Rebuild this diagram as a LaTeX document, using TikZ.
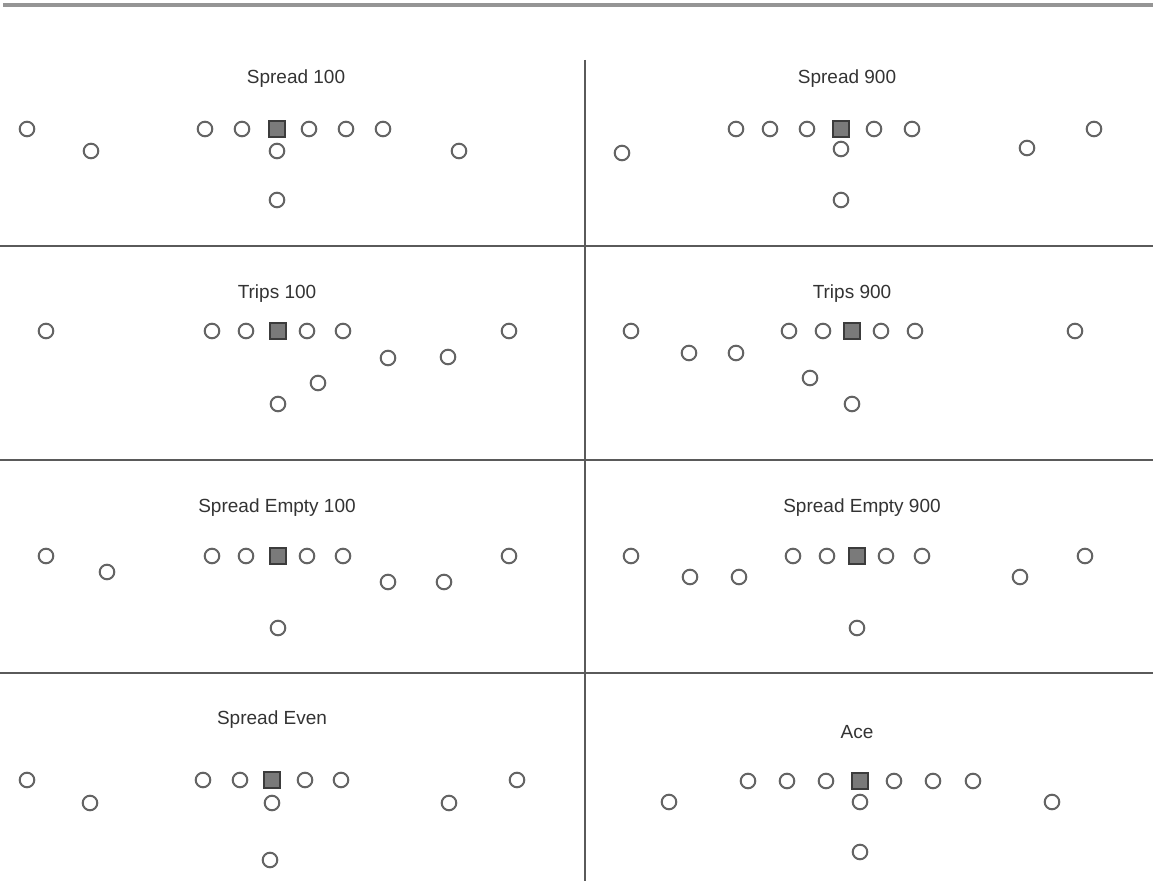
\documentclass[tikz,border=0pt]{standalone}
\usepackage{fontspec}
\setmainfont{Liberation Sans}
\usepackage{tikz}
\definecolor{ringgray}{HTML}{646464}
\definecolor{ctrfill}{HTML}{7A7A7A}
\definecolor{ctrdraw}{HTML}{3C3C3C}
\definecolor{rulegray}{HTML}{5A5A5A}
\definecolor{topgray}{HTML}{959595}
\definecolor{titlegray}{HTML}{333333}

\begin{document}
\begin{tikzpicture}[
x=0.5pt, y=-0.5pt,
player/.style={circle, draw=ringgray, line width=1pt, fill=white, minimum size=7.3pt, inner sep=0pt},
ctr/.style={rectangle, draw=ctrdraw, fill=ctrfill, line width=0.7pt, minimum size=8pt, inner sep=0pt},
ftitle/.style={font=\fontsize{9.5}{11}\selectfont, text=titlegray, inner sep=1pt},
divider/.style={draw=rulegray, line width=0.9pt}
]
\useasboundingbox (0,0) rectangle (1153,881);
% frame
\draw[draw=topgray, line width=1.6pt] (3,5) -- (1153,5);
\draw[divider] (585,60) -- (585,881);
\foreach \y in {246,460,673} \draw[divider] (0,\y) -- (1153,\y);

% Spread 100
\node[ftitle] (t1) at (296,79) {Spread 100};
\node[ctr] (c1) at (277,129) {};
\foreach \n/\x in {a/27,b/205,c/242,d/309,e/346,f/383} \node[player] (p1\n) at (\x,129) {};
\node[player] (p1g) at (91,151) {};
\node[player] (p1h) at (459,151) {};
\node[player] (p1q) at (277,151) {};
\node[player] (p1r) at (277,200) {};

% Spread 900
\node[ftitle] (t2) at (847,79) {Spread 900};
\node[ctr] (c2) at (841,129) {};
\foreach \n/\x in {a/736,b/770,c/807,d/874,e/912,f/1094} \node[player] (p2\n) at (\x,129) {};
\node[player] (p2g) at (622,153) {};
\node[player] (p2h) at (1027,148) {};
\node[player] (p2q) at (841,149) {};
\node[player] (p2r) at (841,200) {};

% Trips 100
\node[ftitle] (t3) at (277,294) {Trips 100};
\node[ctr] (c3) at (278,331) {};
\foreach \n/\x in {a/46,b/212,c/246,d/307,e/343,f/509} \node[player] (p3\n) at (\x,331) {};
\node[player] (p3g) at (388,358) {};
\node[player] (p3h) at (448,357) {};
\node[player] (p3q) at (318,383) {};
\node[player] (p3r) at (278,404) {};

% Trips 900
\node[ftitle] (t4) at (852,294) {Trips 900};
\node[ctr] (c4) at (852,331) {};
\foreach \n/\x in {a/631,b/789,c/823,d/881,e/915,f/1075} \node[player] (p4\n) at (\x,331) {};
\node[player] (p4g) at (689,353) {};
\node[player] (p4h) at (736,353) {};
\node[player] (p4q) at (810,378) {};
\node[player] (p4r) at (852,404) {};

% Spread Empty 100
\node[ftitle] (t5) at (277,508) {Spread Empty 100};
\node[ctr] (c5) at (278,556) {};
\foreach \n/\x in {a/46,b/212,c/246,d/307,e/343,f/509} \node[player] (p5\n) at (\x,556) {};
\node[player] (p5g) at (107,572) {};
\node[player] (p5h) at (388,582) {};
\node[player] (p5i) at (444,582) {};
\node[player] (p5r) at (278,628) {};

% Spread Empty 900
\node[ftitle] (t6) at (862,508) {Spread Empty 900};
\node[ctr] (c6) at (857,556) {};
\foreach \n/\x in {a/631,b/793,c/827,d/886,e/922,f/1085} \node[player] (p6\n) at (\x,556) {};
\node[player] (p6g) at (690,577) {};
\node[player] (p6h) at (739,577) {};
\node[player] (p6i) at (1020,577) {};
\node[player] (p6r) at (857,628) {};

% Spread Even
\node[ftitle] (t7) at (272,720) {Spread Even};
\node[ctr] (c7) at (272,780) {};
\foreach \n/\x in {a/27,b/203,c/240,d/305,e/341,f/517} \node[player] (p7\n) at (\x,780) {};
\node[player] (p7g) at (90,803) {};
\node[player] (p7h) at (449,803) {};
\node[player] (p7q) at (272,803) {};
\node[player] (p7r) at (270,860) {};

% Ace
\node[ftitle] (t8) at (857,732) {Ace};
\node[ctr] (c8) at (860,781) {};
\foreach \n/\x in {a/748,b/787,c/826,d/894,e/933,f/973} \node[player] (p8\n) at (\x,781) {};
\node[player] (p8g) at (669,802) {};
\node[player] (p8h) at (1052,802) {};
\node[player] (p8q) at (860,802) {};
\node[player] (p8r) at (860,852) {};
\end{tikzpicture}
\end{document}
